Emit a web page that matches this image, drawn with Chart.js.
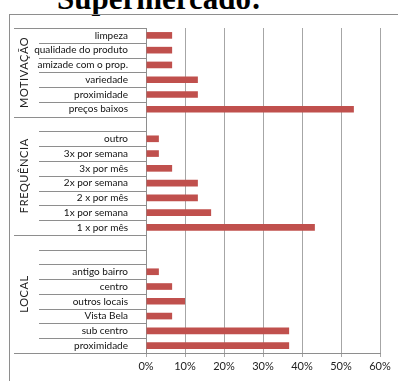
<!DOCTYPE html>
<html>
<head>
<meta charset="utf-8">
<script src="https://cdn.jsdelivr.net/npm/chart.js@4/dist/chart.umd.min.js"></script>
<style>
  html, body { margin: 0; padding: 0; background: #fff; overflow: hidden; }
  #wrap { position: relative; width: 398px; height: 381px; overflow: hidden; }
  #title {
    position: absolute; left: 57px; top: -19px;
    font: bold 31px "Liberation Serif", "Times New Roman", serif;
    color: #000; white-space: nowrap;
  }
  #chart { position: absolute; left: 0; top: 0; }
</style>
</head>
<body>
<div id="wrap">
  <div id="title">Supermercado:</div>
  <canvas id="chart" width="398" height="381"></canvas>
</div>
<script>
// groups, top to bottom; blank entries are spacer rows
const groupNames = ['MOTIVAÇÃO', 'FREQUÊNCIA', 'LOCAL'];

const motivacao = ['limpeza', 'qualidade do produto', 'amizade com o prop.', 'variedade', 'proximidade', 'preços baixos'];
const motivacaoPct = [6.7, 6.7, 6.7, 13.3, 13.3, 53.3];

const frequencia = ['', 'outro', '3x por semana', '3x por mês', '2x por semana', '2 x por mês', '1x por semana', '1 x por mês'];
const frequenciaPct = [null, 3.3, 3.3, 6.7, 13.3, 13.3, 16.7, 43.3];

const local = ['', '', 'antigo bairro', 'centro', 'outros locais', 'Vista Bela', 'sub centro', 'proximidade'];
const localPct = [null, null, 3.3, 6.7, 10, 6.7, 36.7, 36.7];

const xMax = 60;
const xStep = 10;

const groupLabels = [motivacao, frequencia, local];
const labels = [].concat(motivacao, frequencia, local);
const values = [].concat(motivacaoPct, frequenciaPct, localPct);

const red = 'rgb(192, 80, 77)';
const lineGray = '#8e8e8e';
const gridGray = '#a6a6a6';
const font = 'Lato';

// frame around the plot + the two-level category table on the left
const tablePlugin = {
  id: 'table',
  beforeDraw(chart) {
    const ctx = chart.ctx;
    ctx.save();
    ctx.strokeStyle = lineGray;
    ctx.lineWidth = 1;
    ctx.strokeRect(9.5, 14.5, 400, 400);
    ctx.restore();
  },
  afterDraw(chart) {
    const ctx = chart.ctx;
    const y = chart.scales.y;
    const axisX = chart.chartArea.left;
    const n = labels.length;
    const edge = i => {
      if (i === 0) return y.getPixelForTick(0) - (y.getPixelForTick(1) - y.getPixelForTick(0)) / 2;
      if (i === n) return y.getPixelForTick(n - 1) + (y.getPixelForTick(n - 1) - y.getPixelForTick(n - 2)) / 2;
      return (y.getPixelForTick(i - 1) + y.getPixelForTick(i)) / 2;
    };
    ctx.save();
    ctx.strokeStyle = lineGray;
    ctx.lineWidth = 1;
    let start = 0;
    const groupEdges = [0];
    groupLabels.forEach(g => { start += g.length; groupEdges.push(start); });
    for (let i = 0; i <= n; i++) {
      const py = Math.round(edge(i)) + 0.5;
      const x0 = groupEdges.includes(i) ? 14 : 39;
      ctx.beginPath();
      ctx.moveTo(x0, py);
      ctx.lineTo(axisX, py);
      ctx.stroke();
    }
    // rotated group names
    ctx.fillStyle = '#222';
    ctx.font = '11px ' + font;
    ctx.textAlign = 'center';
    ctx.textBaseline = 'middle';
    groupNames.forEach((name, k) => {
      const mid = (edge(groupEdges[k]) + edge(groupEdges[k + 1])) / 2;
      ctx.save();
      ctx.translate(24, mid);
      ctx.rotate(-Math.PI / 2);
      if ('letterSpacing' in ctx) ctx.letterSpacing = '0.6px';
      ctx.fillText(name, 0, 0);
      ctx.restore();
    });
    ctx.restore();
  }
};

new Chart(document.getElementById('chart'), {
  type: 'bar',
  data: {
    labels: labels,
    datasets: [{
      data: values,
      backgroundColor: red,
      barPercentage: 0.45,
      categoryPercentage: 1
    }]
  },
  options: {
    indexAxis: 'y',
    responsive: false,
    animation: false,
    layout: { padding: { left: 0, right: 18, top: 28, bottom: 0 } },
    plugins: { legend: { display: false }, tooltip: { enabled: false } },
    scales: {
      x: {
        min: 0,
        max: xMax,
        afterFit(scale) { scale.height = 28; },
        ticks: {
          stepSize: xStep,
          padding: 3,
          color: '#222',
          font: { family: font, size: 11 },
          callback: v => v + '%'
        },
        grid: { color: gridGray, tickLength: 4 },
        border: { color: lineGray }
      },
      y: {
        afterFit(scale) { scale.width = 146; },
        ticks: {
          autoSkip: false,
          padding: 10,
          color: '#111',
          font: { family: font, size: 10 }
        },
        grid: { display: false },
        border: { color: lineGray }
      }
    }
  },
  plugins: [tablePlugin]
});
</script>
</body>
</html>
